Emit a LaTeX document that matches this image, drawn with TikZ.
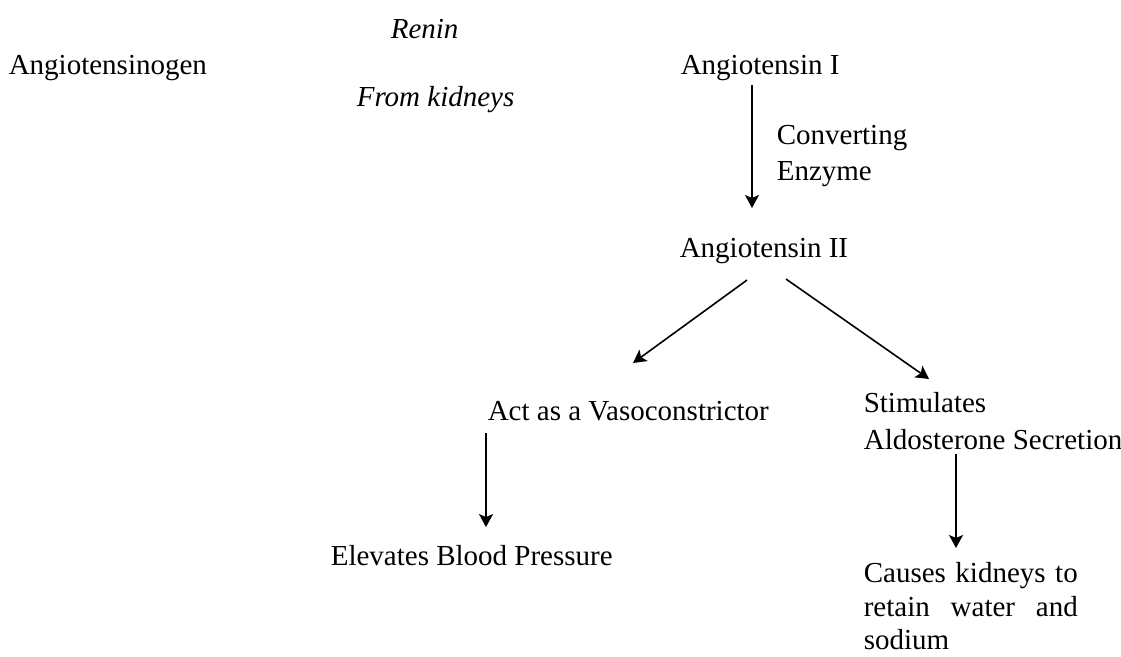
\documentclass[tikz,border=0pt]{standalone}
\usepackage{fontspec}
\setmainfont{Liberation Serif}
\usetikzlibrary{arrows.meta,positioning,calc}

\begin{document}
\begin{tikzpicture}[x=1pt,y=-1pt,->,>={Stealth[length=13pt,width=14pt,inset=3pt]},line width=1.6pt,
   every node/.style={font=\fontsize{29}{36}\selectfont,inner sep=0pt},
   lbl/.style={anchor=base west},
   multi/.style={anchor=north west,align=left}]
  \useasboundingbox (0,0) rectangle (1121,656);
  \node[lbl] (agen) at (8,74) {Angiotensinogen};
  \node[lbl] (renin) at (390,38) {\itshape Renin};
  \node[lbl] (kidney) at (356,106) {\itshape From kidneys};
  \node[lbl] (ang1) at (680,74) {Angiotensin I};
  \node[multi] (enzyme) at (776,124) {Converting\\Enzyme};
  \node[lbl] (ang2) at (679,257) {Angiotensin II};
  \node[lbl] (vaso) at (487,420) {Act as a Vasoconstrictor};
  \node[lbl] (bp) at (330,565) {Elevates Blood Pressure};
  \node[multi,font=\fontsize{29}{37}\selectfont] (aldo) at (863,392) {Stimulates\\Aldosterone Secretion};
  \node[anchor=north west,text width=214pt,align=justify,font=\fontsize{29}{33.5}\selectfont] (retain) at (863,562)
    {\tolerance=9999 Causes kidneys to retain water and sodium};
  \path
   ($(ang1.south west)+(72,4)$) edge ($(ang2.north west)+(73,-29)$)
   ($(ang2.south west)+(68,16)$) edge ($(vaso.north west)+(146,-37)$)
   ($(ang2.south west)+(107,15)$) edge ($(aldo.north west)+(66,-13)$)
   ($(vaso.south west)+(-1,12)$) edge ($(bp.north west)+(156,-17)$)
   ($(aldo.south west)+(93,3)$) edge ($(retain.north west)+(93,-14)$);
\end{tikzpicture}
\end{document}
